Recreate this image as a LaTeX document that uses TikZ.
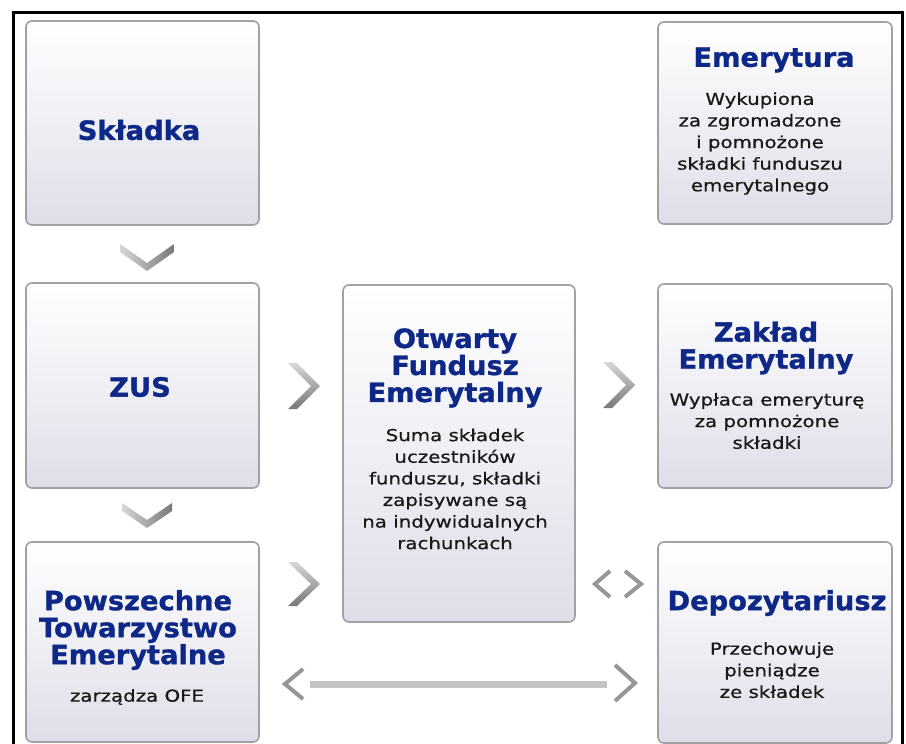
\documentclass[tikz,border=0pt]{standalone}
\usepackage{fontspec}
\setmainfont{DejaVu Sans}
\newfontfamily\tfont{DejaVu Sans}[FakeBold=1.2,FakeStretch=1.03]
\newfontfamily\bfont{DejaVu Sans}[FakeStretch=1.2,FakeBold=0.6]
\usetikzlibrary{calc}
\definecolor{titleblue}{RGB}{14,40,135}
\definecolor{boxedge}{RGB}{160,160,166}
\definecolor{boxbot}{RGB}{222,222,233}
\definecolor{txt}{RGB}{25,25,25}
\definecolor{chevlight}{RGB}{215,215,215}
\definecolor{chevdark}{RGB}{120,120,120}
\definecolor{chevmid}{RGB}{150,150,150}
\definecolor{barcol}{RGB}{196,196,196}
\begin{document}
\begin{tikzpicture}[x=1pt,y=-1pt,
  panel/.style={draw=boxedge,line width=1.6pt,rounded corners=6pt,top color=white,bottom color=boxbot,minimum width=233pt,minimum height=203pt,inner sep=0pt},
  ttl/.style={font=\tfont\bfseries\fontsize{26.5}{27}\selectfont,text=titleblue,align=center,inner sep=0pt},
  body/.style={font=\bfont\fontsize{16.5}{21.6}\selectfont,text=txt,align=center,inner sep=0pt},
  thinchev/.style={line width=4pt,line cap=butt,line join=miter,draw=chevmid},
]
\useasboundingbox (0,0) rectangle (906,744);
\clip (0,0) rectangle (906,744);
\fill[white] (0,0) rectangle (906,744);
\draw[black,line width=3pt] (13,12.5) rectangle (902,770);

% panels
\node[panel,minimum height=204pt] (skladka) at (142.5,123) {};
\node[panel,minimum width=234pt,minimum height=202pt] (emerytura) at (775,123) {};
\node[panel,minimum height=205pt] (zus) at (142.5,385.5) {};
\node[panel,minimum width=232pt,minimum height=337pt] (ofe) at (459,453.5) {};
\node[panel,minimum width=234pt,minimum height=204pt] (zaklad) at (775,386) {};
\node[panel,minimum height=200pt] (pte) at (142.5,642) {};
\node[panel,minimum width=234pt,minimum height=201pt] (depo) at (775,642.5) {};

% texts
\node[ttl] (tskladka) at (139,130) {Składka};
\node[ttl] (temer) at (774,60) {Emerytura};
\node[body] (bemer) at (760,143.5) {Wykupiona\\za zgromadzone\\i pomnożone\\składki funduszu\\emerytalnego};
\node[ttl] (tzus) at (140,387) {ZUS};
\node[ttl] (tofe) at (455,368) {Otwarty\\Fundusz\\Emerytalny};
\node[body] (bofe) at (455,489) {Suma składek\\uczestników\\funduszu, składki\\zapisywane są\\na indywidualnych\\rachunkach};
\node[ttl] (tzaklad) at (766,348) {Zakład\\Emerytalny};
\node[body] (bzaklad) at (767,421) {Wypłaca emeryturę\\za pomnożone\\składki};
\node[ttl] (tpte) at (138,630) {Powszechne\\Towarzystwo\\Emerytalne};
\node[body] (bpte) at (137,697) {zarządza OFE};
\node[ttl] (tdepo) at (777,603) {Depozytariusz};
\node[body,text depth=0pt] (bdepo) at (772,670) {Przechowuje\\pieniądze\\ze składek};

% right-pointing chevron: apex X,Y; half height H; depth D; horizontal thickness T
\newcommand{\rchev}[5]{%
  \shade[top color=chevlight,bottom color=chevdark]
    ({#1-#4},{#2-#3}) -- (#1,#2) -- ({#1-#4},{#2+#3}) -- ({#1-#4-#5},{#2+#3})
    -- ({#1-#5},#2) -- ({#1-#4-#5},{#2-#3}) -- cycle;
}
% down-pointing chevron: apex X,Y (bottom); half width W; rise V; vertical thickness T
\newcommand{\dchev}[5]{%
  \shade[left color=chevlight,right color=chevdark]
    ({#1-#3},{#2-#4}) -- (#1,#2) -- ({#1+#3},{#2-#4}) -- ({#1+#3},{#2-#4-#5})
    -- (#1,{#2-#5}) -- ({#1-#3},{#2-#4-#5}) -- cycle;
}

% down chevrons: Składka -> ZUS, ZUS -> PTE
\dchev{147}{271}{27}{19}{8}
\dchev{147}{528}{25}{17}{8}

% right chevrons: ZUS -> OFE, OFE -> Zakład, PTE -> OFE
\rchev{320}{386}{23}{23}{9}
\rchev{635}{385}{23}{23}{9}
\rchev{320}{584}{22}{23}{9}

% <> between OFE and Depozytariusz
\coordinate (la) at (610,571); \coordinate (lb) at (595,584); \coordinate (lc) at (610,597);
\coordinate (ra) at (625,571); \coordinate (rb) at (641,584); \coordinate (rc) at (625,597);
\draw[thinchev] (la) -- (lb) -- (lc);
\draw[thinchev] (ra) -- (rb) -- (rc);

% bottom double arrow PTE <-> Depozytariusz
\coordinate (bl) at (310,684); \coordinate (br) at (607,684);
\draw[barcol,line width=7pt] (bl) -- (br);
\coordinate (ba) at (303,669); \coordinate (bb) at (285,684); \coordinate (bc) at (303,699);
\coordinate (bd) at (615,665); \coordinate (be) at (635,683); \coordinate (bf) at (615,701);
\draw[thinchev] (ba) -- (bb) -- (bc);
\draw[thinchev] (bd) -- (be) -- (bf);
\end{tikzpicture}
\end{document}
